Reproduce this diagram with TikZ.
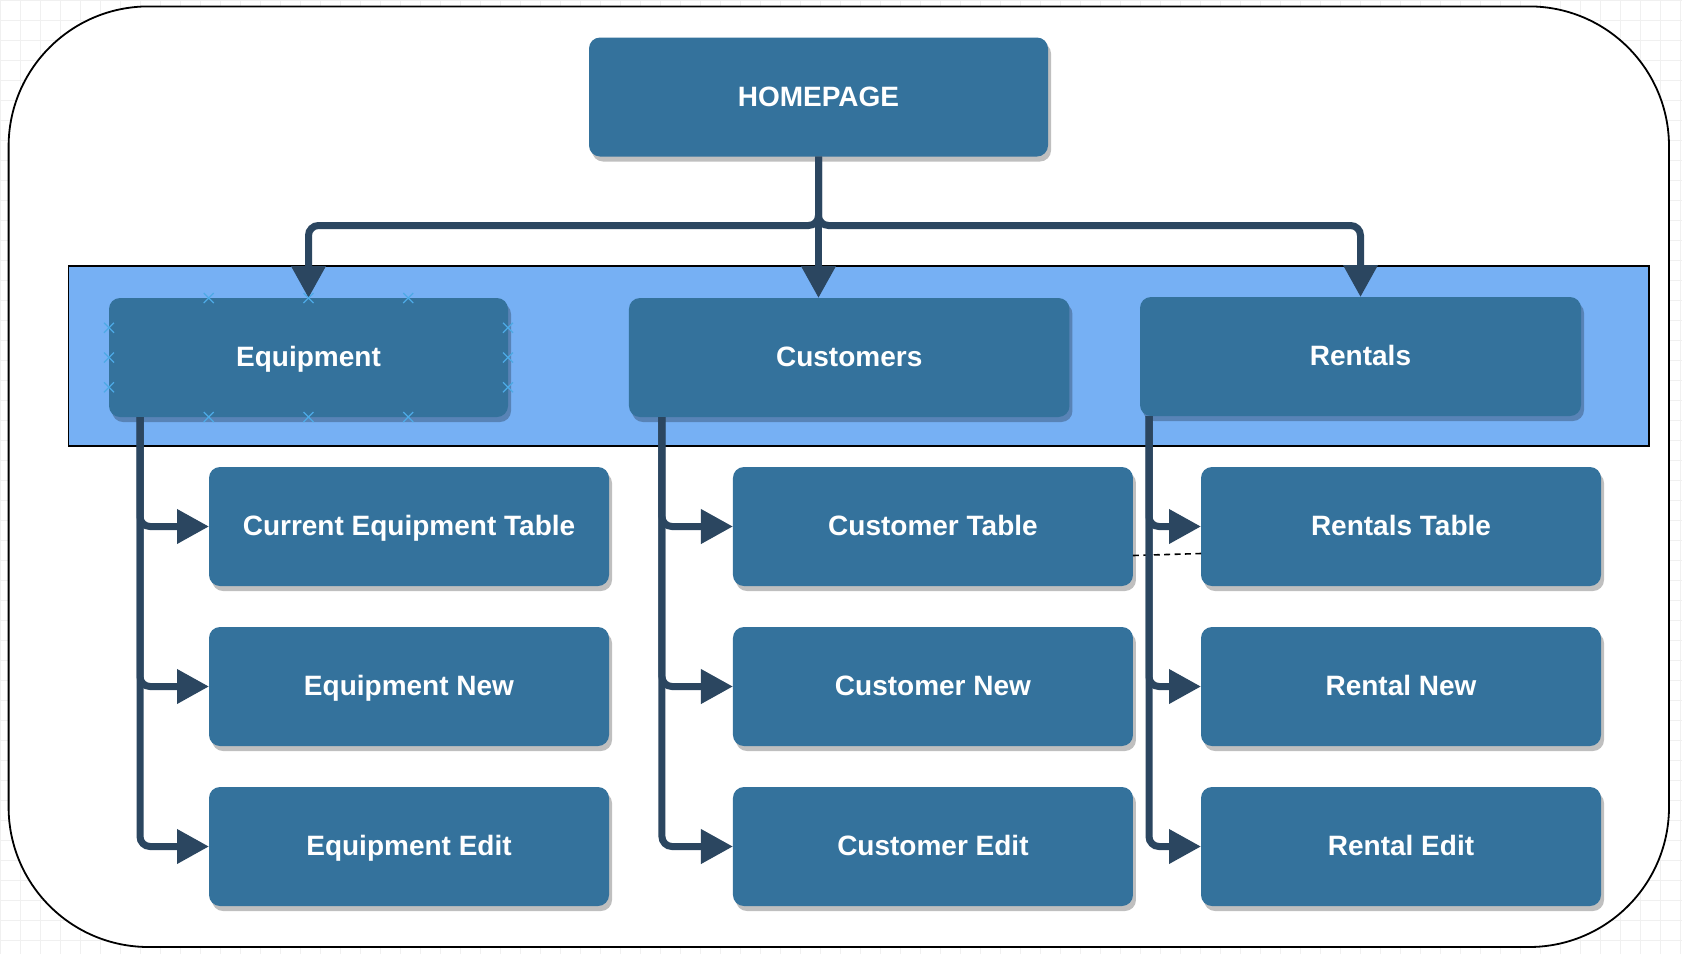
\documentclass[tikz,border=0pt]{standalone}
\usepackage{fontspec}
\setmainfont{Liberation Sans}
\usetikzlibrary{calc}
\usetikzlibrary{arrows.meta}
\usetikzlibrary{positioning}
\usetikzlibrary{shadows}

\definecolor{boxblue}{HTML}{34729C}
\definecolor{linkblue}{HTML}{2B4660}
\definecolor{bandblue}{HTML}{76B0F4}
\definecolor{pinblue}{HTML}{4DAAE6}

\begin{document}
\begin{tikzpicture}[x=1pt, y=1pt,
        page/.style={fill=boxblue, rounded corners=5.5pt, text=white, font=\fontsize{14}{16}\selectfont\bfseries,
            minimum height=59.5pt, text height=10pt, text depth=1pt, inner sep=0pt, outer sep=0pt,
            drop shadow={shadow xshift=1.5pt, shadow yshift=-2.5pt, fill=black, opacity=0.25}},
        link/.style={draw=linkblue, line width=3.5pt, rounded corners=5pt, -{Triangle[length=16pt, width=16.5pt]}},
        pin/.style={draw=pinblue, line width=0.6pt}
    ]
        \useasboundingbox (0,0) rectangle (841,-477);
        \draw[black!6, line width=0.5pt, step=10pt] (0,0) grid (841,-477);
        \draw[fill=white, line width=0.9pt, rounded corners=70pt] (4.3,-3.2) rectangle (834.5,-473.5);
        \draw[fill=bandblue, line width=0.8pt] (34.3,-133) rectangle (824.5,-223);

        \node[page, minimum width=229.5pt] (1) at (409.25,-48.5) {HOMEPAGE};

        \node[page, minimum width=199.5pt] (2) at (154.25,-178.75) {Equipment};
        \node[page, minimum width=220.25pt] (3) at (424.6,-178.75) {Customers};
        \node[page, minimum width=220.5pt] (4) at (680.25,-178.25) {Rentals};

        \node[page, minimum width=200pt, below right=25pt and 50pt of 2.south west] (5) {Current Equipment Table};
        \node[page, minimum width=200pt, below=20.5pt of 5] (6) {Equipment New};
        \node[page, minimum width=200pt, below=20.5pt of 6] (7) {Equipment Edit};

        \node[page, minimum width=200pt, below right=25pt and 52pt of 3.south west] (8) {Customer Table};
        \node[page, minimum width=200pt, below=20.5pt of 8] (9) {Customer New};
        \node[page, minimum width=200pt, below=20.5pt of 9] (10) {Customer Edit};

        \node[page, minimum width=200pt, below right=25.5pt and 30.5pt of 4.south west] (11) {Rentals Table};
        \node[page, minimum width=200pt, below=20.5pt of 11] (12) {Rental New};
        \node[page, minimum width=200pt, below=20.5pt of 12] (13) {Rental Edit};

        \draw[line width=0.8pt, dash pattern=on 3pt off 2.2pt] ([yshift=-14.5pt]8.east) -- ([yshift=-13.5pt]11.west);

        \draw[link] (1.south) -- ++(0,-34.5) -| (2.north);
        \draw[link] (1.south) -- ++(0,-34.5) -| (4.north);
        \draw[link] (1.south) -- (1.south |- 3.north);

        \draw[link] ([xshift=15.5pt]2.south west) |- (5.west);
        \draw[link] ([xshift=15.5pt]2.south west) |- (6.west);
        \draw[link] ([xshift=15.5pt]2.south west) |- (7.west);

        \draw[link] ([xshift=16.5pt]3.south west) |- (8.west);
        \draw[link] ([xshift=16.5pt]3.south west) |- (9.west);
        \draw[link] ([xshift=16.5pt]3.south west) |- (10.west);

        \draw[link] ([xshift=4.5pt]4.south west) |- (11.west);
        \draw[link] ([xshift=4.5pt]4.south west) |- (12.west);
        \draw[link] ([xshift=4.5pt]4.south west) |- (13.west);

        % connection points shown on Equipment
        \foreach \p in {0.25,0.5,0.75} {
            \draw[pin] ($(2.north west)!\p!(2.north east)$) +(-2.5,-2.5) -- +(2.5,2.5) +(-2.5,2.5) -- +(2.5,-2.5);
            \draw[pin] ($(2.south west)!\p!(2.south east)$) +(-2.5,-2.5) -- +(2.5,2.5) +(-2.5,2.5) -- +(2.5,-2.5);
            \draw[pin] ($(2.north west)!\p!(2.south west)$) +(-2.5,-2.5) -- +(2.5,2.5) +(-2.5,2.5) -- +(2.5,-2.5);
            \draw[pin] ($(2.north east)!\p!(2.south east)$) +(-2.5,-2.5) -- +(2.5,2.5) +(-2.5,2.5) -- +(2.5,-2.5);
        }
    \end{tikzpicture}
\end{document}
